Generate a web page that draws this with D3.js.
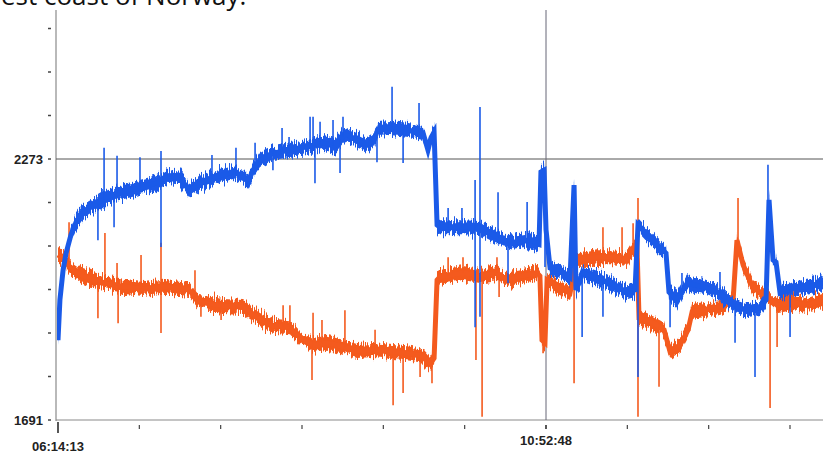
<!DOCTYPE html>
<html>
<head>
<meta charset="utf-8">
<script src="https://cdn.jsdelivr.net/npm/d3@7"></script>
<style>
  html, body { margin: 0; padding: 0; background: #fff; overflow: hidden; }
  svg { display: block; }
</style>
</head>
<body>
<svg id="chart" width="823" height="454"></svg>
<script>
// Time axis: minutes after 06:14:13
const startTime = "06:14:13";
const markTime = "10:52:48";
const xTickLabels = ["06:14:13", "", "", "", "", "", "10:52:48", "", "", ""];
const yLabelled = [1691, 2273];
const yStep = 97;

// Blue trace (smoothed centre of the band): [minute, value]
const blueLine = [
  [0, 1869], [1.1, 1959], [2.9, 2025], [4.6, 2063], [7.4, 2104], [10.3, 2132],
  [14.3, 2155], [17.7, 2164], [22.8, 2175], [27.4, 2186], [32.5, 2195], [37.1, 2199],
  [46.2, 2208], [56.0, 2219], [63.4, 2235], [69.6, 2231], [74.8, 2204], [80.5, 2217],
  [90.2, 2233], [99.9, 2244], [105.6, 2235], [108.5, 2222], [111.3, 2248], [115.3, 2271],
  [122.7, 2286], [132.4, 2293], [142.2, 2300], [151.3, 2309], [158.1, 2302], [163.8, 2329],
  [170.7, 2315], [176.4, 2304], [180.4, 2315], [182.7, 2340], [189.5, 2342], [199.2, 2338],
  [208.4, 2331], [211.2, 2293], [212.9, 2320], [214.7, 2333], [216.4, 2126], [218.1, 2121],
  [231.2, 2121], [240.9, 2119], [246.6, 2108], [254.1, 2092], [259.8, 2086], [269.5, 2092],
  [274.6, 2083], [275.7, 2244], [277.5, 2248], [278.6, 2115], [280.9, 2030], [288.3, 2019],
  [292.3, 2008], [294.6, 2215], [295.7, 1981], [299.7, 2019], [307.7, 2008], [316.8, 1992],
  [324.8, 1976], [329.4, 1981], [331.1, 2126], [336.3, 2104], [343.7, 2075], [347.1, 2063],
  [348.8, 1976], [353.4, 1959], [359.1, 1996], [368.2, 1988], [377.9, 1974], [385.4, 1947],
  [393.3, 1936], [400.8, 1941], [404.2, 1959], [405.9, 2182], [408.2, 2048], [409.9, 2043],
  [412.2, 1974], [419.6, 1985], [427.6, 1988], [436.7, 1996]
];

// Orange trace (smoothed centre of the band): [minute, value]
const orangeLine = [
  [0, 2059], [2.3, 2052], [6.3, 2034], [14.3, 2012], [23.4, 1999], [37.1, 1988],
  [48.5, 1983], [59.9, 1988], [74.8, 1981], [80.5, 1954], [94.2, 1945], [105.6, 1943],
  [109.6, 1932], [115.3, 1916], [122.7, 1901], [132.4, 1898], [138.2, 1874], [145.6, 1858],
  [153.6, 1863], [161.0, 1856], [170.7, 1845], [179.8, 1847], [189.5, 1843], [199.2, 1840],
  [208.4, 1834], [212.4, 1816], [214.7, 1829], [216.4, 2003], [218.1, 2010], [231.2, 2019],
  [240.9, 2012], [250.6, 2019], [256.3, 2003], [262.0, 2010], [273.5, 2019], [275.1, 2012],
  [276.3, 1869], [278.0, 1863], [279.2, 2003], [284.9, 1988], [292.3, 1974], [295.7, 2043],
  [298.0, 2048], [307.7, 2054], [316.8, 2054], [324.8, 2050], [328.3, 2072], [330.5, 2081],
  [331.7, 1918], [339.7, 1907], [346.0, 1892], [349.4, 1843], [355.1, 1858], [359.7, 1892],
  [362.0, 1932], [368.2, 1936], [377.9, 1943], [385.4, 1959], [387.6, 2092], [391.1, 2037],
  [396.8, 1985], [404.8, 1967], [410.5, 1947], [419.6, 1954], [427.6, 1947], [436.7, 1959]
];

// Spike tips: [minute, value]
const blueSpikes = [
  [26.3, 2298], [33.7, 2280], [46.8, 2277], [58.8, 2291], [87.9, 2282], [101.6, 2298],
  [112.5, 2309], [127.9, 2342], [131.9, 2322], [143.9, 2367], [145.6, 2367], [149.6, 2356],
  [157.0, 2360], [162.7, 2367], [190.7, 2434], [206.1, 2398], [222.7, 2164], [230.6, 2164],
  [238.1, 2226], [240.9, 2389], [251.2, 2199], [267.8, 2177], [356.2, 2019], [377.9, 2021],
  [405.3, 2260],
  [22.8, 2092], [32.0, 2121], [58.8, 2077], [108.5, 2208], [122.7, 2248], [146.7, 2219],
  [161.0, 2242], [182.1, 2266], [197.0, 2264], [238.1, 1898], [240.9, 1921], [256.9, 1996],
  [278.0, 2032], [299.2, 1876], [311.1, 1921], [331.1, 1787], [349.4, 1898], [386.5, 1863],
  [397.9, 1787], [417.9, 1876]
];

const orangeSpikes = [
  [6.3, 2132], [26.8, 2108], [33.7, 2041], [47.4, 2059], [58.8, 2086], [78.2, 2025],
  [128.5, 1947], [132.4, 1947], [145.6, 1930], [150.7, 1914], [163.8, 1936], [181.0, 1892],
  [222.7, 2054], [231.2, 2054], [250.6, 2054], [311.1, 2121], [322.0, 2121], [328.3, 2130],
  [331.1, 2186], [388.2, 2186],
  [22.8, 1918], [34.3, 1907], [58.8, 1885], [81.6, 1921], [93.1, 1914], [101.6, 1930],
  [145.0, 1780], [191.3, 1724], [197.0, 1751], [206.7, 1787], [213.5, 1773], [238.6, 1825],
  [242.1, 1698], [251.8, 1965], [276.9, 1840], [294.6, 1773], [331.1, 1698], [343.1, 1765],
  [406.5, 1718], [410.5, 1854]
];

const BLUE = "#1a5ae8";
const ORANGE = "#f45a1e";

function parseClock(s) {
  const p = s.split(":").map(Number);
  return new Date(2000, 0, 1, p[0], p[1], p[2]);
}

const t0 = parseClock(startTime);
const t6 = parseClock(markTime);
const toDate = m => new Date(t0.getTime() + m * 60000);

const svg = d3.select("#chart");

const x = d3.scaleTime().domain([t0, t6]).range([58, 546]);
const y = d3.scaleLinear().domain([1691, 2273]).range([420, 159]);

const defs = svg.append("defs");

// rough, scanned-looking edge for the noise band (vertical jitter only)
const rough = defs.append("filter").attr("id", "rough")
  .attr("x", "-2%").attr("y", "-10%").attr("width", "104%").attr("height", "120%");
rough.append("feTurbulence").attr("type", "fractalNoise")
  .attr("baseFrequency", "0.9 0.05").attr("numOctaves", 2).attr("seed", 3).attr("result", "noise");
const ct = rough.append("feComponentTransfer").attr("in", "noise").attr("result", "noiseY");
ct.append("feFuncR").attr("type", "linear").attr("slope", 0).attr("intercept", 0.5);
rough.append("feDisplacementMap").attr("in", "SourceGraphic").attr("in2", "noiseY")
  .attr("scale", 16).attr("xChannelSelector", "R").attr("yChannelSelector", "G");

// title fragment, cut off by the page edge
svg.append("text")
  .attr("x", -23).attr("y", 5)
  .attr("font-family", "Open Sans, sans-serif")
  .attr("font-size", 26)
  .attr("fill", "#111")
  .text("West coast of Norway.");

const plotTop = 10;

defs.append("clipPath").attr("id", "plot")
  .append("rect").attr("x", 57).attr("y", plotTop).attr("width", 823).attr("height", 420 - plotTop);

// axes lines
svg.append("line").attr("x1", 56).attr("x2", 56).attr("y1", plotTop).attr("y2", 421)
  .attr("stroke", "#8a8a8a").attr("stroke-width", 1.2);
svg.append("line").attr("x1", 56).attr("x2", 823).attr("y1", y(1691)).attr("y2", y(1691))
  .attr("stroke", "#8a8a8a").attr("stroke-width", 1.2);

// y ticks (detached dashes)
const yTicks = d3.range(0, 10).map(i => 1691 + i * yStep);
svg.selectAll(".ytick").data(yTicks).join("line")
  .attr("x1", 48).attr("x2", 51)
  .attr("y1", d => y(d)).attr("y2", d => y(d))
  .attr("stroke", "#444").attr("stroke-width", 1.5);
svg.selectAll(".ylab").data(yLabelled).join("text")
  .attr("x", 43).attr("y", d => y(d) + 5)
  .attr("text-anchor", "end")
  .attr("font-family", "Liberation Sans, Arial, sans-serif")
  .attr("font-size", 13).attr("font-weight", "bold")
  .attr("fill", "#222")
  .text(d => d);

// x ticks
const stepMs = (t6 - t0) / 6;
const xTicks = xTickLabels.map((lab, i) => ({ t: new Date(t0.getTime() + i * stepMs), lab }));
svg.selectAll(".xtick").data(xTicks).join("line")
  .attr("x1", d => x(d.t)).attr("x2", d => x(d.t))
  .attr("y1", (d, i) => i === 0 ? 422 : 425)
  .attr("y2", (d, i) => i === 0 ? 433 : 429)
  .attr("stroke", "#444").attr("stroke-width", (d, i) => i === 0 || i === 6 ? 1.8 : 1.2);
svg.selectAll(".xlab").data(xTicks.filter(d => d.lab)).join("text")
  .attr("x", d => x(d.t))
  .attr("y", (d, i) => i === 0 ? 451 : 445)
  .attr("text-anchor", "middle")
  .attr("font-family", "Liberation Sans, Arial, sans-serif")
  .attr("font-size", 13).attr("font-weight", "bold")
  .attr("fill", "#222")
  .text(d => d.lab);

// cursor lines
svg.append("line").attr("x1", 56).attr("x2", 823).attr("y1", y(2273)).attr("y2", y(2273))
  .attr("stroke", "#555").attr("stroke-width", 1);
svg.append("line").attr("x1", x(t6)).attr("x2", x(t6)).attr("y1", plotTop).attr("y2", 420)
  .attr("stroke", "#667").attr("stroke-width", 1);

const g = svg.append("g").attr("clip-path", "url(#plot)");

const halfBand = 7;
const line = d3.line().x(d => x(toDate(d[0]))).y(d => y(d[1]));
const band = d3.area()
  .x(d => x(toDate(d[0])))
  .y0(d => y(d[1]) + halfBand)
  .y1(d => y(d[1]) - halfBand);

function baseAt(series, m) {
  const i = d3.bisector(d => d[0]).left(series, m);
  if (i <= 0) return series[0][1];
  if (i >= series.length) return series[series.length - 1][1];
  const a = series[i - 1], b = series[i];
  return a[1] + (b[1] - a[1]) * (m - a[0]) / (b[0] - a[0]);
}

function drawTrace(series, spikes, color) {
  const tg = g.append("g");
  tg.append("path").datum(series)
    .attr("fill", color).attr("stroke", "none")
    .attr("filter", "url(#rough)")
    .attr("d", band);
  tg.append("path").datum(series)
    .attr("fill", "none").attr("stroke", color).attr("stroke-width", 5)
    .attr("d", line);
  tg.selectAll(null).data(spikes).join("line")
    .attr("x1", d => x(toDate(d[0]))).attr("x2", d => x(toDate(d[0])))
    .attr("y1", d => y(baseAt(series, d[0]))).attr("y2", d => y(d[1]))
    .attr("stroke", color).attr("stroke-width", 1.6);
}

drawTrace(orangeLine, orangeSpikes, ORANGE);
drawTrace(blueLine, blueSpikes, BLUE);
</script>
</body>
</html>
